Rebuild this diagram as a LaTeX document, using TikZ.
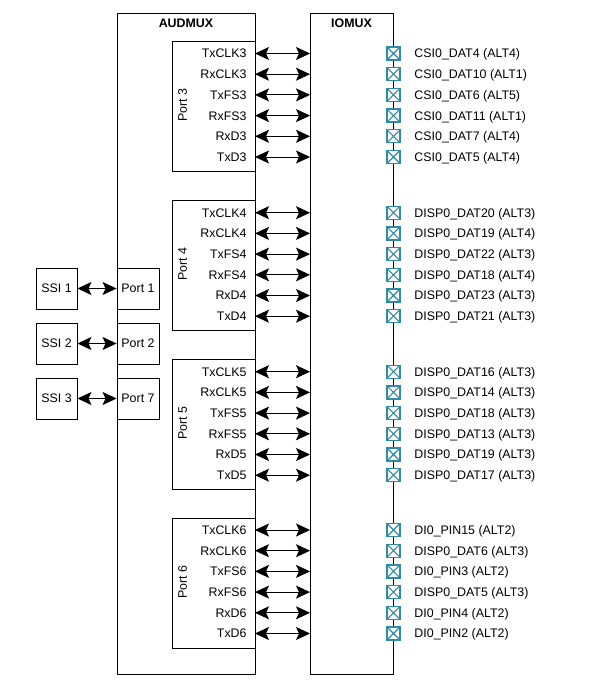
\documentclass[tikz,border=0pt]{standalone}
\usepackage{fontspec}
\setmainfont{Liberation Sans}
\usetikzlibrary{arrows.meta}
\definecolor{pincol}{HTML}{2F8BA6}
\newcommand\pinrow[3]{%
  \node[pin] (pin#1) at (393.5,#2) {};
  \node[lbl, anchor=west] (pl#1) at (414,#2) {#3};}
\begin{document}
\begin{tikzpicture}[x=1pt,y=-1pt, line width=0.9pt,
  box/.style={draw, line width=0.9pt, inner sep=0pt},
  lbl/.style={font=\fontsize{12.4}{14}\selectfont, inner sep=0pt, text height=8.9pt, text depth=0pt},
  ttl/.style={font=\fontsize{12.4}{14}\selectfont\bfseries, inner sep=0pt, text height=8.9pt, text depth=0pt},
  dbl/.style={{Stealth[length=14pt,width=13pt,inset=3pt]}-{Stealth[length=14pt,width=13pt,inset=3pt]}, line width=0.9pt},
  pin/.style={draw=pincol, fill=white, line width=1.3pt, minimum size=13pt, inner sep=0pt,
    path picture={\draw[pincol, line width=1.1pt]
      (path picture bounding box.south west) -- (path picture bounding box.north east)
      (path picture bounding box.north west) -- (path picture bounding box.south east);}},
]
\useasboundingbox (0,0) rectangle (591,698);
% main blocks
\node[box, anchor=north west, minimum width=138pt, minimum height=661pt] (audmux) at (117,13) {};
\node[box, anchor=north west, minimum width=83pt, minimum height=661pt] (iomux) at (310,13) {};
\node[ttl] (audmuxt) at (186,23) {AUDMUX};
\node[ttl] (iomuxt) at (351.5,23) {IOMUX};
% SSI and ports 1,2,7
\foreach \n/\q/\y in {1/1/288.5, 2/2/343.5, 3/7/398.5} {
  \node[box, lbl, minimum width=41pt, minimum height=41pt] (ssi\n) at (56.5,\y) {SSI \n};
  \node[box, lbl, minimum width=42pt, minimum height=41pt] (port\q) at (138,\y) {Port \q};
  \draw[dbl] (ssi\n.east) -- (port\q.west);
}
% ports 3-6
\foreach \p/\b in {3/53.5, 4/212.7, 5/371.7, 6/530} {
  \node[box, anchor=north west, minimum width=83pt, minimum height=130pt] (port\p) at (172,\b-12.5) {};
  \node[lbl, rotate=90] (plabel\p) at (182.5,\b+51.75) {Port \p};
  \foreach \s [count=\j from 0] in {TxCLK, RxCLK, TxFS, RxFS, RxD, TxD} {
    \node[lbl, anchor=east] (sig\p\j) at (247,\b+20.7*\j) {\s\p};
    \coordinate (src\p\j) at (255,\b+20.7*\j);
    \coordinate (dst\p\j) at (310,\b+20.7*\j);
    \draw[dbl] (src\p\j) -- (dst\p\j);
  }
}
% pins
\foreach \t [count=\j from 0] in {CSI0\_DAT4 (ALT4), CSI0\_DAT10 (ALT1), CSI0\_DAT6 (ALT5), CSI0\_DAT11 (ALT1), CSI0\_DAT7 (ALT4), CSI0\_DAT5 (ALT4)}
  {\pinrow{a\j}{53.5+20.7*\j}{\t}}
\foreach \t [count=\j from 0] in {DISP0\_DAT20 (ALT3), DISP0\_DAT19 (ALT4), DISP0\_DAT22 (ALT3), DISP0\_DAT18 (ALT4), DISP0\_DAT23 (ALT3), DISP0\_DAT21 (ALT3)}
  {\pinrow{b\j}{212.7+20.7*\j}{\t}}
\foreach \t [count=\j from 0] in {DISP0\_DAT16 (ALT3), DISP0\_DAT14 (ALT3), DISP0\_DAT18 (ALT3), DISP0\_DAT13 (ALT3), DISP0\_DAT19 (ALT3), DISP0\_DAT17 (ALT3)}
  {\pinrow{c\j}{371.7+20.7*\j}{\t}}
\foreach \t [count=\j from 0] in {DI0\_PIN15 (ALT2), DISP0\_DAT6 (ALT3), DI0\_PIN3 (ALT2), DISP0\_DAT5 (ALT3), DI0\_PIN4 (ALT2), DI0\_PIN2 (ALT2)}
  {\pinrow{d\j}{530+20.7*\j}{\t}}
\end{tikzpicture}
\end{document}
